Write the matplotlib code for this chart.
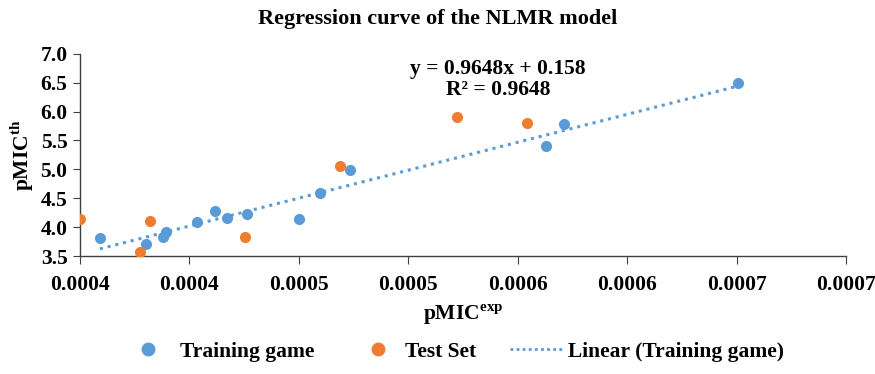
import matplotlib
matplotlib.use("Agg")
import matplotlib.pyplot as plt
import numpy as np
from matplotlib.lines import Line2D

plt.rcParams['font.family'] = ['Liberation Serif', 'DejaVu Serif']
plt.rcParams['font.weight'] = 'bold'
plt.rcParams['mathtext.fontset'] = 'custom'
plt.rcParams['mathtext.rm'] = 'Liberation Serif:bold'
plt.rcParams['mathtext.bf'] = 'Liberation Serif:bold'

# training set
train_x = [0.0004091, 0.0004300, 0.0004378, 0.0004392, 0.0004533, 0.0004617, 0.0004670,
           0.0004762, 0.0005000, 0.0005097, 0.0005234, 0.0006128, 0.0006209, 0.0007006]
train_y = [3.806, 3.707, 3.834, 3.910, 4.094, 4.279, 4.163,
           4.232, 4.135, 4.596, 4.990, 5.406, 5.787, 6.497]

# test set
test_x = [0.0004000, 0.0004276, 0.0004321, 0.0004754, 0.0005188, 0.0005722, 0.0006041]
test_y = [4.135, 3.574, 4.106, 3.828, 5.059, 5.908, 5.809]

x_ticks = [0.0004, 0.00045, 0.0005, 0.00055, 0.0006, 0.00065, 0.0007, 0.00075]
x_tick_labels = ['0.0004', '0.0004', '0.0005', '0.0005', '0.0006', '0.0006', '0.0007', '0.0007']
y_ticks = [3.5, 4.0, 4.5, 5.0, 5.5, 6.0, 6.5, 7.0]

blue = '#5B9BD5'
orange = '#ED7D31'

fig = plt.figure(figsize=(8.75, 3.74), dpi=100)
ax = fig.add_axes([0.0914, 0.3155, 0.8756, 0.5405])

ax.scatter(train_x, train_y, s=64, color=blue, zorder=3, linewidths=0)
ax.scatter(test_x, test_y, s=64, color=orange, zorder=3, linewidths=0)

# linear trend on training data
k, b = np.polyfit(train_x, train_y, 1)
xs = np.array([min(train_x), max(train_x)])
ax.plot(xs, k * xs + b, color=blue, linestyle=(0, (1, 1.6)), linewidth=2.2, zorder=2)

ax.set_xlim(0.0004, 0.00075)
ax.set_ylim(3.5, 7.0)
ax.set_xticks(x_ticks)
ax.set_xticklabels(x_tick_labels)
ax.set_yticks(y_ticks)
ax.set_yticklabels(['%.1f' % v for v in y_ticks])
ax.tick_params(axis='both', labelsize=15.5, direction='out', length=6, color='#404040')
ax.tick_params(axis='x', pad=8)
ax.tick_params(axis='y', length=5, pad=4)
for spine in ['top', 'right']:
    ax.spines[spine].set_visible(False)
for spine in ['left', 'bottom']:
    ax.spines[spine].set_color('#404040')
    ax.spines[spine].set_linewidth(1.0)

ax.set_xlabel(r'pMIC$^{\mathrm{exp}}$', fontsize=15.5, fontweight='bold', labelpad=5)
ax.set_ylabel(r'pMIC$^{\mathrm{th}}$', fontsize=15.5, fontweight='bold', labelpad=3)

fig.text(0.5, 0.95, 'Regression curve of the NLMR model', ha='center', va='center',
         fontsize=16, fontweight='bold')
ax.text(0.546, 0.975, 'y = 0.9648x + 0.158\nR\u00b2 = 0.9648', transform=ax.transAxes,
        ha='center', va='top', fontsize=15.5, fontweight='bold', linespacing=1.05)

# legend: one entry per box so the spacing matches the Excel layout
entries = [
    (Line2D([], [], marker='o', linestyle='none', color=blue, markersize=9),
     'Training game', 0.1566, 1.0, 1.0),
    (Line2D([], [], marker='o', linestyle='none', color=orange, markersize=9),
     'Test Set', 0.4194, 1.0, 0.77),
    (Line2D([], [], color=blue, linestyle=(0, (1, 1.2)), linewidth=2),
     'Linear (Training game)', 0.583, 2.47, 0.23),
]
for handle, label, x0, hl, pad in entries:
    leg = fig.legend([handle], [label], loc='center left', bbox_to_anchor=(x0, 0.059),
                     frameon=False, fontsize=15.5, handlelength=hl, handletextpad=pad,
                     borderpad=0, borderaxespad=0)

fig.savefig('out.png', dpi=100)
